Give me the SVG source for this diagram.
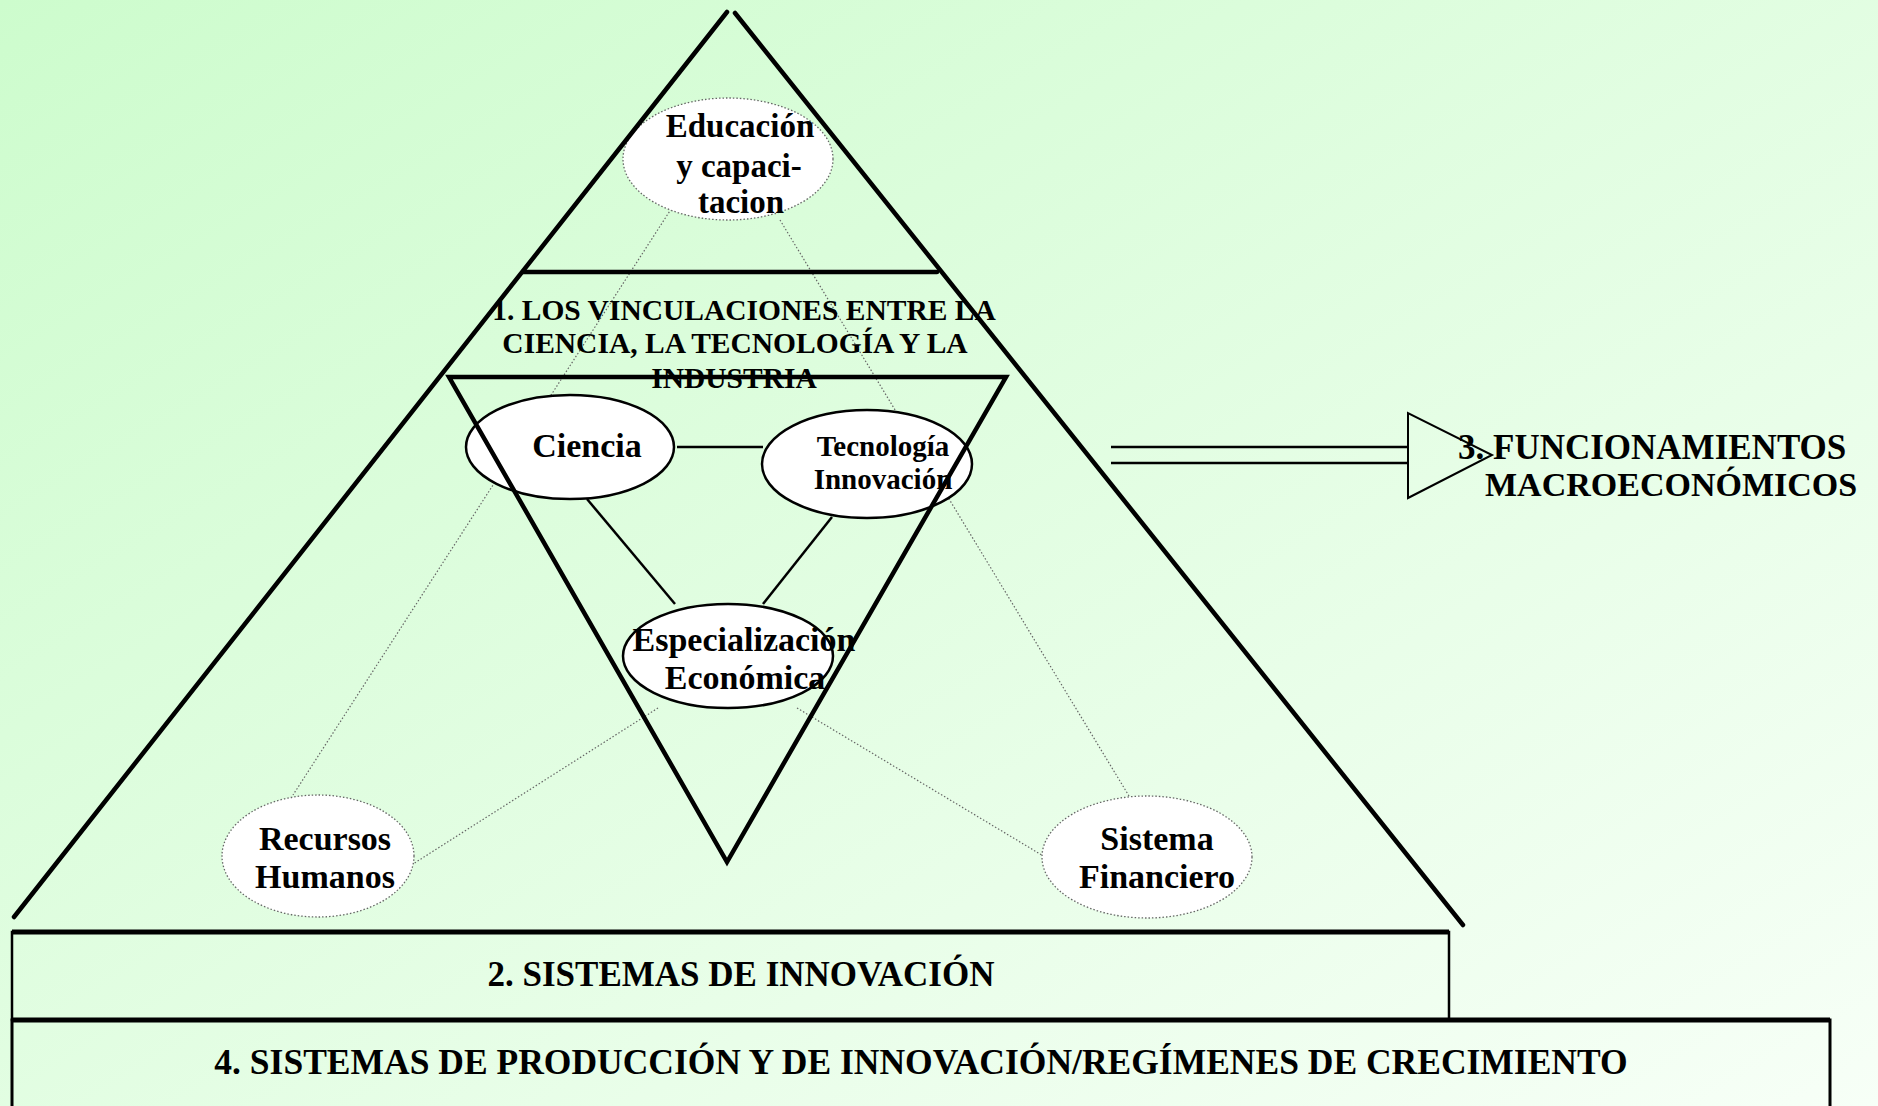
<svg xmlns="http://www.w3.org/2000/svg" width="1878" height="1106" viewBox="0 0 1878 1106">
<defs>
<linearGradient id="bg" x1="0" y1="0" x2="1" y2="1">
<stop offset="0" stop-color="#cdfccd"/>
<stop offset="1" stop-color="#f7fff7"/>
</linearGradient>
<style>
.t{font-family:"Liberation Serif","Times New Roman",serif;font-weight:bold;fill:#000;text-anchor:middle}
.frame{fill:none;stroke:#000;stroke-width:4.5;stroke-linecap:round;stroke-linejoin:miter}
.dot{fill:none;stroke:#666;stroke-width:1.2;stroke-dasharray:1.5 2}
.solid{fill:none;stroke:#000;stroke-width:2.5}
.eS{fill:#fff;stroke:#000;stroke-width:2.5}
.eD{fill:#fff;stroke:#666;stroke-width:1.3;stroke-dasharray:1.5 2}
</style>
</defs>
<rect width="1878" height="1106" fill="url(#bg)"/>

<g id="connectors">
<line class="dot" x1="675" y1="203" x2="293" y2="795"/>
<line class="dot" x1="780" y1="220" x2="1129" y2="796"/>
<line class="dot" x1="658" y1="708" x2="413" y2="864"/>
<line class="dot" x1="797" y1="708" x2="1060" y2="866"/>
<line class="solid" x1="677" y1="447" x2="763" y2="447"/>
<line class="solid" x1="587" y1="499" x2="675" y2="604"/>
<line class="solid" x1="832" y1="517" x2="763" y2="604"/>
<line class="solid" x1="1111" y1="447" x2="1408" y2="447"/>
<line class="solid" x1="1111" y1="463" x2="1408" y2="463"/>
</g>

<g id="arrow3">
<polygon points="1408,413 1408,498 1492,455" fill="none" stroke="#000" stroke-width="2"/>
</g>

<g id="node-educacion">
<ellipse class="eD" cx="728" cy="159" rx="105" ry="61"/>
</g>
<g id="node-ciencia">
<ellipse class="eS" cx="570" cy="447" rx="104" ry="52"/>
</g>
<g id="node-tecnologia">
<ellipse class="eS" cx="867" cy="464" rx="105" ry="54"/>
</g>
<g id="node-especializacion">
<ellipse class="eS" cx="728" cy="656" rx="105" ry="52"/>
</g>
<g id="node-recursos">
<ellipse class="eD" cx="318" cy="856" rx="96" ry="61"/>
</g>
<g id="node-sistema">
<ellipse class="eD" cx="1147" cy="857" rx="105" ry="61"/>
</g>

<g id="pyramid">
<line class="frame" x1="14" y1="917" x2="727" y2="12"/>
<line class="frame" x1="735" y1="13" x2="1463" y2="925"/>
<line class="frame" x1="523" y1="272" x2="937" y2="272"/>
</g>

<g id="title1">
<text class="t" font-size="29.5" x="744" y="320">1. LOS VINCULACIONES ENTRE LA</text>
<text class="t" font-size="29.5" x="735" y="353">CIENCIA, LA TECNOLOGÍA Y LA</text>
<text class="t" font-size="29.5" x="734" y="388">INDUSTRIA</text>
</g>

<g id="inverted-triangle">
<polygon class="frame" points="449,377 1006,377 727,862"/>
</g>

<g id="labels">
<text class="t" font-size="33" x="740" y="137">Educación</text>
<text class="t" font-size="33" x="739" y="177">y capaci-</text>
<text class="t" font-size="33" x="741" y="213">tacion</text>
<text class="t" font-size="34" x="587" y="457">Ciencia</text>
<text class="t" font-size="29" x="883" y="456">Tecnología</text>
<text class="t" font-size="29" x="883" y="489">Innovación</text>
<text class="t" font-size="34" x="744" y="651">Especialización</text>
<text class="t" font-size="34" x="745" y="689">Económica</text>
<text class="t" font-size="34" x="325" y="850">Recursos</text>
<text class="t" font-size="34" x="325" y="888">Humanos</text>
<text class="t" font-size="34" x="1157" y="850">Sistema</text>
<text class="t" font-size="34" x="1157" y="888">Financiero</text>
<text class="t" font-size="35" x="1458" y="459" style="text-anchor:start">3. FUNCIONAMIENTOS</text>
<text class="t" font-size="34" x="1485" y="496" style="text-anchor:start">MACROECONÓMICOS</text>
</g>

<g id="box2">
<rect x="12" y="932" width="1437" height="88" fill="none" stroke="#000" stroke-width="2.5"/>
<line x1="12" y1="932" x2="1449" y2="932" stroke="#000" stroke-width="5"/>
<text class="t" font-size="35" x="741" y="986">2. SISTEMAS DE INNOVACIÓN</text>
</g>
<g id="box4">
<rect x="12" y="1020" width="1818" height="100" fill="none" stroke="#000" stroke-width="3"/>
<line x1="12" y1="1020" x2="1830" y2="1020" stroke="#000" stroke-width="5"/>
<text class="t" font-size="35.5" x="921" y="1074">4. SISTEMAS DE PRODUCCIÓN Y DE INNOVACIÓN/REGÍMENES DE CRECIMIENTO</text>
</g>
</svg>
